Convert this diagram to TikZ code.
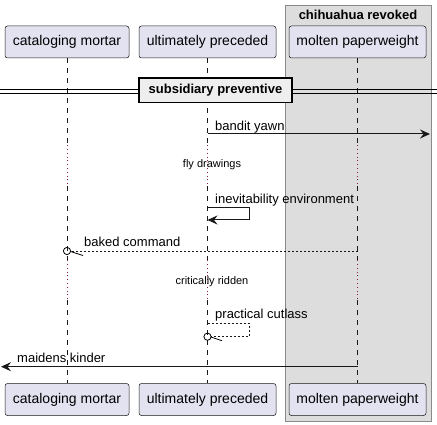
\documentclass[tikz,border=0pt]{standalone}
\usepackage{fontspec}
\setmainfont{Liberation Sans}
\usetikzlibrary{arrows.meta,calc}
\definecolor{partfill}{HTML}{E2E2F0}
\definecolor{partline}{HTML}{181818}
\definecolor{groupfill}{HTML}{DDDDDD}
\definecolor{groupline}{HTML}{8A8A8A}
\definecolor{divfill}{HTML}{EEEEEE}
\definecolor{delaycol}{HTML}{8B1A4A}
\tikzset{
  part/.style={draw=partline, line width=0.5pt, fill=partfill, rounded corners=2.5pt,
    minimum height=32pt, inner sep=0pt, font=\fontsize{14}{16}\selectfont},
  life/.style={draw=partline, line width=0.5pt, dash pattern=on 5pt off 5pt},
  delayline/.style={draw=delaycol, line width=0.8pt, dash pattern=on 0.8pt off 3pt},
  msg/.style={draw=partline, line width=1pt},
  dmsg/.style={draw=partline, line width=0.8pt, dash pattern=on 2pt off 2pt},
  tip/.style={-{Stealth[length=10pt,width=9pt,inset=3.5pt]}},
  lbl/.style={anchor=base west, inner sep=0pt, font=\fontsize{13}{15}\selectfont},
  dlbl/.style={inner sep=0pt, font=\fontsize{11}{13}\selectfont},
}
\begin{document}
\begin{tikzpicture}[x=1pt,y=-1pt]
\useasboundingbox (0,0) rectangle (437,425);
% group box
\node[draw=groupline, line width=1pt, fill=groupfill, minimum width=146pt, minimum height=415pt, inner sep=0pt] (grp) at (358,213.5) {};
\node[inner sep=0pt, font=\bfseries\fontsize{13}{15}\selectfont] (grpt) at (358,15) {chihuahua revoked};
% participants
\node[part, minimum width=124pt] (cmT) at (67,42) {cataloging mortar};
\node[part, minimum width=137pt] (upT) at (207.5,42) {ultimately preceded};
\node[part, minimum width=137pt] (mpT) at (357.5,42) {molten paperweight};
\node[part, minimum width=124pt] (cmB) at (67,399.5) {cataloging mortar};
\node[part, minimum width=137pt] (upB) at (207.5,399.5) {ultimately preceded};
\node[part, minimum width=137pt] (mpB) at (357.5,399.5) {molten paperweight};
% lifelines
\foreach \p in {cm,up,mp}{
  \draw[life] (\p T.south) -- ($(\p T.south)+(0,87)$);
  \draw[delayline] ($(\p T.south)+(0,87)$) -- ($(\p T.south)+(0,128)$);
  \draw[life] ($(\p T.south)+(0,128)$) -- ($(\p T.south)+(0,202)$);
  \draw[delayline] ($(\p T.south)+(0,202)$) -- ($(\p T.south)+(0,242)$);
  \draw[life] ($(\p T.south)+(0,242)$) -- (\p B.north);
}
% divider
\draw[line width=0.8pt] (0,89) -- (437,89);
\draw[line width=0.8pt] (0,93) -- (437,93);
\node[draw=black, line width=1.5pt, fill=divfill, minimum width=153pt, minimum height=24.5pt, inner sep=0pt,
  font=\bfseries\fontsize{13}{15}\selectfont] (div) at (215.5,90.5) {subsidiary preventive};
% bandit yawn
\coordinate (bR) at (430,134);
\draw[msg, tip] (upT.south |- 0,134) -- (bR);
\node[lbl] (l1) at (215,131) {bandit yawn};
% fly drawings
\node[dlbl] (d1) at (212,165) {fly drawings};
% inevitability environment
\draw[msg, tip] (upT.south |- 0,207.7) -- (249,207.7) -- (249,220) -- (upT.south |- 0,220);
\node[lbl] (l2) at (215,203.5) {inevitability environment};
% baked command
\draw[dmsg] (mpT.south |- 0,251) -- (70.5,251);
\draw[line width=0.8pt] (cmT.south |- 0,251) circle (3.6pt);
\draw[line width=0.8pt] (70.5,251.5) -- (83,255.5);
\node[lbl] (l3) at (84,246.5) {baked command};
% critically ridden
\node[dlbl] (d2) at (212,282) {critically ridden};
% practical cutlass
\draw[dmsg] (upT.south |- 0,323.3) -- (249,323.3) -- (249,336.7) -- (211,336.7);
\draw[line width=0.8pt] (upT.south |- 0,336.7) circle (3.6pt);
\draw[line width=0.8pt] (211,337) -- (222,340.7);
\node[lbl] (l4) at (215,318.5) {practical cutlass};
% maidens kinder
\coordinate (mL) at (1,366.7);
\draw[msg, tip] (mpT.south |- 0,366.7) -- (mL);
\node[lbl] (l5) at (17,362) {maidens kinder};
\end{tikzpicture}
\end{document}
